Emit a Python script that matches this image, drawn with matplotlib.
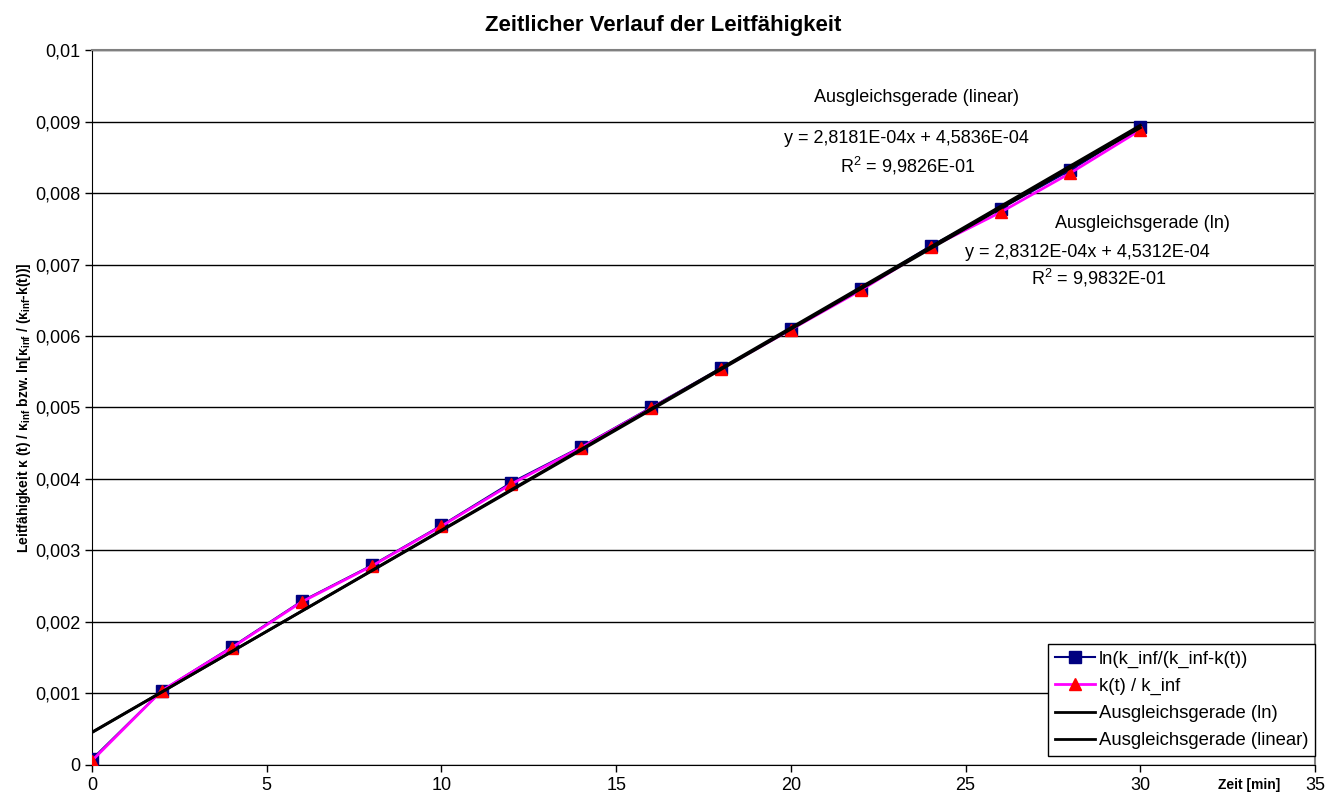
import numpy as np
import matplotlib.pyplot as plt
from matplotlib.ticker import MultipleLocator, FuncFormatter

# ── Daten ────────────────────────────────────────────────────────────────────
zeit = [0, 2, 4, 6, 8, 10, 12, 14, 16, 18, 20, 22, 24, 26, 28, 30]
ln_werte = [0.00008, 0.00104, 0.00165, 0.00229, 0.00279, 0.00335, 0.00395, 0.00445,
            0.00500, 0.00555, 0.00610, 0.00666, 0.00726, 0.00778, 0.00832, 0.00892]
k_werte = [0.00006, 0.00104, 0.00164, 0.00228, 0.00278, 0.00334, 0.00393, 0.00444,
           0.00499, 0.00554, 0.00609, 0.00664, 0.00724, 0.00773, 0.00828, 0.00888]

# Ausgleichsgeraden: Steigung, Achsenabschnitt, R²
fit_ln = (2.8312e-04, 4.5312e-04, 9.9832e-01)
fit_lin = (2.8181e-04, 4.5836e-04, 9.9826e-01)
fit_x = [0, 30]

plt.rcParams['font.family'] = ['Liberation Sans', 'DejaVu Sans']
plt.rcParams['mathtext.fontset'] = 'custom'
plt.rcParams['mathtext.rm'] = 'Liberation Sans'
plt.rcParams['mathtext.bf'] = 'Liberation Sans:bold'


def excel_fmt(v):
    # 2.8181e-04 -> "2,8181E-04"
    return f"{v:.4E}".replace('.', ',')


fig = plt.figure(figsize=(13.27, 7.99), dpi=100)
ax = fig.add_axes([0.0693, 0.0426, 0.9217, 0.8948])

ax.plot(zeit, ln_werte, color='#000080', lw=1.5, marker='s', ms=8,
        mfc='#000080', mec='#000080', label='ln(k_inf/(k_inf-k(t))', zorder=3)
ax.plot(zeit, k_werte, color='#FF00FF', lw=2, marker='^', ms=9,
        mfc='#FF0000', mec='#FF0000', label='k(t) / k_inf', zorder=4)
ax.plot(fit_x, [fit_ln[0] * x + fit_ln[1] for x in fit_x], color='black', lw=2,
        label='Ausgleichsgerade (ln)', zorder=5)
ax.plot(fit_x, [fit_lin[0] * x + fit_lin[1] for x in fit_x], color='black', lw=2,
        label='Ausgleichsgerade (linear)', zorder=5)

ax.set_xlim(0, 35)
ax.set_ylim(0, 0.01)
ax.xaxis.set_major_locator(MultipleLocator(5))
ax.yaxis.set_major_locator(MultipleLocator(0.001))
ax.yaxis.set_major_formatter(FuncFormatter(
    lambda v, p: '0' if abs(v) < 1e-12 else f"{v:.3f}".rstrip('0').replace('.', ',')))
ax.tick_params(labelsize=13, length=5, width=1, direction='out', color='black')
ax.tick_params(axis='x', pad=4)
ax.grid(axis='y', color='black', lw=1)
ax.set_axisbelow(True)
for s in ['left', 'bottom']:
    ax.spines[s].set_color('black')
for s in ['top', 'right']:
    ax.spines[s].set_color('#808080')
    ax.spines[s].set_linewidth(1.5)

fig.text(0.5, 0.968, 'Zeitlicher Verlauf der Leitfähigkeit', fontsize=16, fontweight='bold',
         ha='center', va='center')
ax.set_ylabel(r'Leitfähigkeit κ (t) / κ$_{\mathbf{inf}}$ bzw. ln[κ$_{\mathbf{inf}}$ / (κ$_{\mathbf{inf}}$-k(t))]',
              fontsize=10, fontweight='bold', labelpad=1)
ax.text(33.1, -0.00028, 'Zeit [min]', fontsize=10, fontweight='bold', ha='center', va='center')

# Beschriftung der Ausgleichsgeraden
ax.text(23.6, 0.00934, 'Ausgleichsgerade (linear)', fontsize=13, ha='center', va='center')
ax.text(23.3, 0.00876, f"y = {excel_fmt(fit_lin[0])}x + {excel_fmt(fit_lin[1])}",
        fontsize=13, ha='center', va='center')
ax.text(23.33, 0.00838, f"R$^2$ = {excel_fmt(fit_lin[2])}", fontsize=13, ha='center', va='center')
ax.text(30.05, 0.00757, 'Ausgleichsgerade (ln)', fontsize=13, ha='center', va='center')
ax.text(28.48, 0.00717, f"y = {excel_fmt(fit_ln[0])}x + {excel_fmt(fit_ln[1])}",
        fontsize=13, ha='center', va='center')
ax.text(28.82, 0.00681, f"R$^2$ = {excel_fmt(fit_ln[2])}", fontsize=13, ha='center', va='center')

leg = ax.legend(loc='lower right', bbox_to_anchor=(1.0, 0.013), fontsize=13.3, fancybox=False,
                framealpha=1, edgecolor='black', borderpad=0.35, labelspacing=0.55,
                handlelength=2.2, handletextpad=0.2, borderaxespad=0)
leg.get_frame().set_linewidth(1)

fig.savefig('out.png', dpi=100)
